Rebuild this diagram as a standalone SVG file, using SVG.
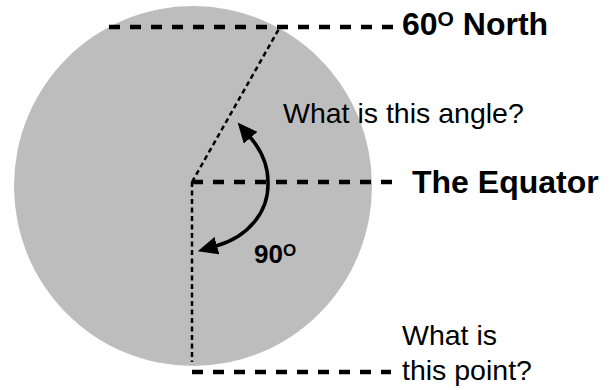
<svg xmlns="http://www.w3.org/2000/svg" width="613" height="390" viewBox="0 0 613 390">
  <style>
    .thick { stroke: #000; stroke-width: 4.5; stroke-dasharray: 11 10; fill: none; }
    .thin { stroke: #000; stroke-width: 2.5; stroke-dasharray: 5 3.5; fill: none; }
    .arc { stroke: #000; stroke-width: 3.5; fill: none; }
    .bold { font-family: "Liberation Sans", Arial, sans-serif; font-weight: bold; fill: #000; }
    .reg { font-family: "Liberation Sans", Arial, sans-serif; fill: #000; }
  </style>
  <defs>
    <marker id="head" viewBox="0 0 20 18" refX="1" refY="9" markerWidth="20" markerHeight="18" markerUnits="userSpaceOnUse" orient="auto-start-reverse">
      <path d="M0 0 L20 9 L0 18 Z" fill="#000"/>
    </marker>
  </defs>
  <g id="earth">
    <ellipse cx="193" cy="186" rx="179" ry="180" fill="#bdbdbd"/>
  </g>
  <g id="connectors">
    <line class="thick" x1="109" y1="27" x2="394" y2="27"/>
    <line class="thick" x1="192" y1="182" x2="396" y2="182"/>
    <line class="thick" x1="192" y1="372" x2="391" y2="372"/>
    <line class="thin" x1="192" y1="182" x2="280" y2="27"/>
    <line class="thin" x1="192" y1="182" x2="192" y2="362"/>
    <path class="arc" d="M 250 137 Q 268 158 268 182 C 269 212 248 237 216 246" marker-start="url(#head)" marker-end="url(#head)"/>
  </g>
  <g id="label-north">
    <text class="bold" x="402" y="35" font-size="32">60<tspan font-size="21" dy="-9">O</tspan><tspan dy="9"> North</tspan></text>
  </g>
  <g id="label-equator">
    <text class="bold" x="412" y="193" font-size="32">The Equator</text>
  </g>
  <g id="label-angle">
    <text class="reg" x="283" y="123" font-size="28.5">What is this angle?</text>
  </g>
  <g id="label-90">
    <text class="bold" x="254" y="263" font-size="26">90<tspan font-size="17" dy="-7">O</tspan></text>
  </g>
  <g id="label-point">
    <text class="reg" x="402" y="345" font-size="28.5">What is</text>
    <text class="reg" x="402" y="380" font-size="28.5">this point?</text>
  </g>
</svg>
